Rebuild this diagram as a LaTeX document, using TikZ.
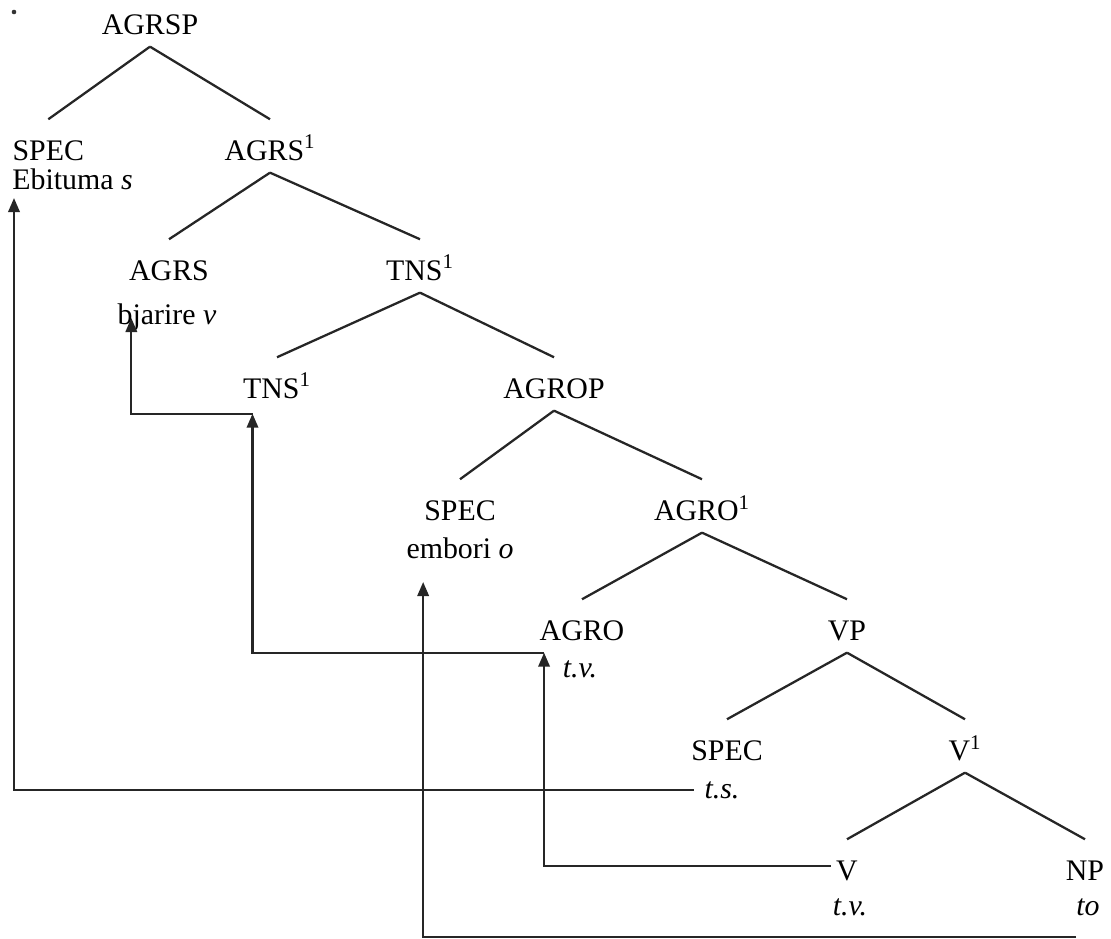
\documentclass[tikz,border=0pt]{standalone}
\usepackage{fontspec}
\setmainfont{Liberation Serif}
\usetikzlibrary{arrows.meta}
\tikzset{
  cat/.style={inner sep=3pt, text height=20pt, text depth=4pt, anchor=base},
  word/.style={inner sep=0pt, anchor=base},
  branch/.style={line width=1.3pt, black!85},
  move/.style={line width=1.3pt, black!85, -{Triangle[width=6.5pt,length=8pt]}},
}
\begin{document}
\begin{tikzpicture}[x=0.02cm, y=-0.02cm, font=\fontsize{17}{20}\selectfont]
  \useasboundingbox (0,0) rectangle (1111,938);
  % Mark on the page
  \fill[black!80] (14,12) circle (1.3pt);
  % Categories
  \node[cat] (agrsp) at (150,34) {AGRSP};
  \node[cat, anchor=base west] (spec1) at (7,160) {SPEC};
  \node[cat] (agrs1) at (270,160) {AGRS\textsuperscript{1}};
  \node[cat] (agrs) at (169,280) {AGRS};
  \node[cat] (tns1) at (420,280) {TNS\textsuperscript{1}};
  \node[cat] (tns2) at (277,398) {TNS\textsuperscript{1}};
  \node[cat] (agrop) at (554,398) {AGROP};
  \node[cat] (spec2) at (460,520) {SPEC};
  \node[cat] (agro1) at (702,520) {AGRO\textsuperscript{1}};
  \node[cat] (agro) at (582,640) {AGRO};
  \node[cat] (vp) at (847,640) {VP};
  \node[cat] (spec3) at (727,760) {SPEC};
  \node[cat] (v1) at (965,760) {V\textsuperscript{1}};
  \node[cat] (v) at (847,880) {V};
  \node[cat] (np) at (1085,880) {NP};
  % Words and traces
  \node[word, anchor=base west] (ebituma) at (12,189) {Ebituma \textit{s}};
  \node[word] (bjarire) at (167,324) {bjarire \textit{v}};
  \node[word] (embori) at (460,558) {embori \textit{o}};
  \node[word] (tv1) at (580,677) {\textit{t.v.}};
  \node[word] (ts) at (722,798) {\textit{t.s.}};
  \node[word] (tv2) at (850,915) {\textit{t.v.}};
  \node[word] (to) at (1088,915) {\textit{to}};
  % Branches
  \draw[branch] (agrsp.south) -- (spec1.north);
  \draw[branch] (agrsp.south) -- (agrs1.north);
  \draw[branch] (agrs1.south) -- (agrs.north);
  \draw[branch] (agrs1.south) -- (tns1.north);
  \draw[branch] (tns1.south) -- (tns2.north);
  \draw[branch] (tns1.south) -- (agrop.north);
  \draw[branch] (agrop.south) -- (spec2.north);
  \draw[branch] (agrop.south) -- (agro1.north);
  \draw[branch] (agro1.south) -- (agro.north);
  \draw[branch] (agro1.south) -- (vp.north);
  \draw[branch] (vp.south) -- (spec3.north);
  \draw[branch] (vp.south) -- (v1.north);
  \draw[branch] (v1.south) -- (v.north);
  \draw[branch] (v1.south) -- (np.north);
  % Movement
  \draw[move, shorten <=6pt] (ts.west) -| ([shift={(2,9)}]ebituma.base west);
  \draw[move] ([shift={(0,22)}]to.base west) -| ([shift={(17,24)}]embori.base west);
  \draw[move] (v.west) -| ([shift={(10,0)}]agro.south west);
  \draw[move] ([shift={(10,0)}]agro.south west) -| ([shift={(15,3)}]tns2.south west);
  \draw[move] ([shift={(15,3)}]tns2.south west) -| ([shift={(14,-6)}]bjarire.base west);
\end{tikzpicture}
\end{document}
